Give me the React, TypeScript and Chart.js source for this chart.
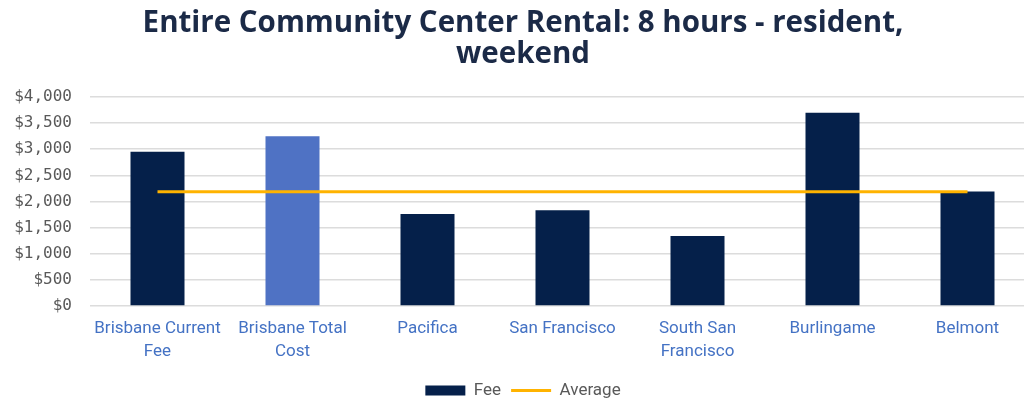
import React, { useEffect, useRef } from "react";
import { Chart, registerables } from "chart.js";

Chart.register(...registerables);

const categories: (string | string[])[] = [
  ["Brisbane Current", "Fee"],
  ["Brisbane Total", "Cost"],
  "Pacifica",
  "San Francisco",
  ["South San", "Francisco"],
  "Burlingame",
  "Belmont",
];
const feeValues = [2950, 3250, 1760, 1830, 1340, 3700, 2190];
const averageValues = [2185, 2185, 2185, 2185, 2185, 2185, 2185];
const barColors = ["#05204a", "#4f72c4", "#05204a", "#05204a", "#05204a", "#05204a", "#05204a"];
const yTicks = [0, 500, 1000, 1500, 2000, 2500, 3000, 3500, 4000];
const titleLines = ["Entire Community Center Rental: 8 hours - resident,", "weekend"];

const W = 1071;
const H = 409;

export default function App() {
  const ref = useRef<HTMLCanvasElement | null>(null);
  useEffect(() => {
    if (!ref.current) return;
    const chart = new Chart(ref.current, {
      type: "bar",
      data: {
        labels: categories,
        datasets: [
          {
            type: "bar",
            label: "Fee",
            data: feeValues,
            backgroundColor: barColors,
            borderWidth: 0,
            barPercentage: 0.4,
            categoryPercentage: 1,
            order: 2,
          },
          {
            type: "line",
            label: "Average",
            data: averageValues,
            borderColor: "#ffb300",
            borderWidth: 3,
            pointRadius: 0,
            fill: false,
            order: 1,
          },
        ],
      },
      options: {
        responsive: false,
        animation: false,
        layout: { padding: { left: 11, right: 36, top: 0, bottom: 0 } },
        plugins: {
          tooltip: { enabled: false },
          title: {
            display: true,
            text: titleLines,
            color: "#1b2a47",
            font: { family: "'Open Sans'", size: 29.5, weight: "bold", lineHeight: 1.05 },
            padding: { top: 8, bottom: 27 },
          },
          legend: {
            display: true,
            position: "bottom",
            labels: {
              usePointStyle: true,
              pointStyleWidth: 40,
              boxHeight: 10,
              padding: 10,
              color: "#595959",
              font: { family: "Roboto", size: 17 },
              generateLabels: () => [
                {
                  text: "Fee",
                  fillStyle: "#05204a",
                  strokeStyle: "#05204a",
                  lineWidth: 0,
                  pointStyle: "rect",
                  datasetIndex: 0,
                  fontColor: "#595959",
                } as any,
                {
                  text: "Average",
                  fillStyle: "#ffb300",
                  strokeStyle: "#ffb300",
                  lineWidth: 3,
                  pointStyle: "line",
                  datasetIndex: 1,
                  fontColor: "#595959",
                } as any,
              ],
            },
          },
        },
        scales: {
          x: {
            grid: { display: false },
            border: { display: false },
            ticks: {
              color: "#4472c4",
              font: { family: "Roboto", size: 17, lineHeight: 1.35 },
              padding: 3,
              maxRotation: 0,
              autoSkip: false,
            },
            afterFit: (s: any) => {
              s.height = 66;
            },
          },
          y: {
            min: 0,
            max: 4000,
            afterBuildTicks: (s: any) => {
              s.ticks = yTicks.map((v) => ({ value: v }));
            },
            grid: { color: "#dcdcdc", lineWidth: 1.5, drawTicks: false },
            border: { display: false },
            ticks: {
              color: "#595959",
              font: { family: "'DejaVu Sans Mono'", size: 16 },
              padding: 18,
              callback: (v: any) => "$" + Number(v).toLocaleString("en-US"),
            },
            afterFit: (s: any) => {
              s.width = 79;
            },
          },
        },
      },
    });
    return () => chart.destroy();
  }, []);
  return (
    <div style={{ position: "fixed", left: 0, top: 0, width: 1024, height: 401, overflow: "hidden", background: "#fff" }}>
      <canvas ref={ref} width={W} height={H} style={{ position: "absolute", left: 0, top: 0, width: W, height: H }} />
    </div>
  );
}
